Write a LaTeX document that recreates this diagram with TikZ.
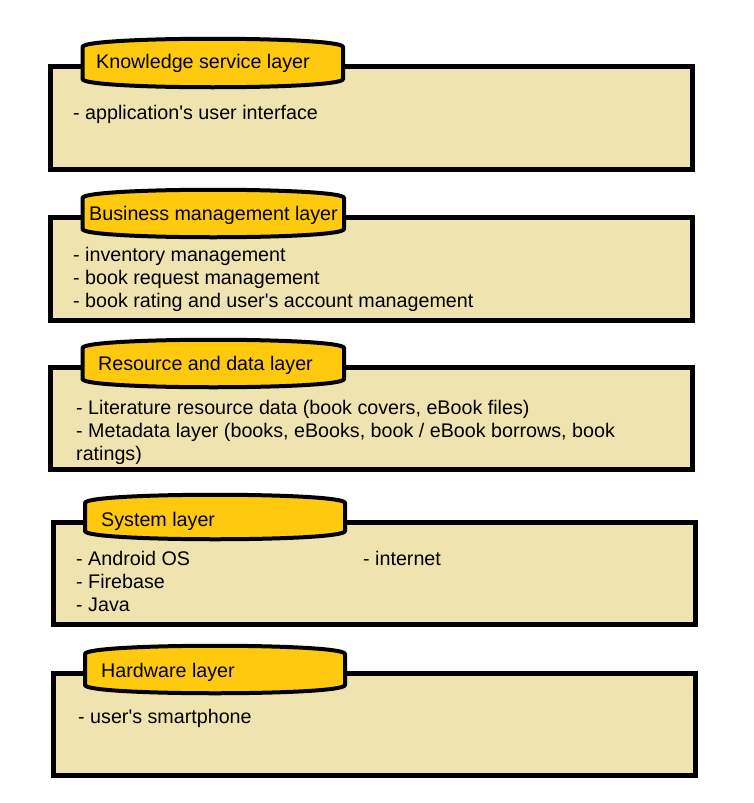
\documentclass[tikz,border=0pt]{standalone}
\usepackage{fontspec}
\setmainfont{Liberation Sans}
\definecolor{LayerFill}{HTML}{EFE4B0}
\definecolor{TabFill}{HTML}{FFC90E}
\newcommand{\q}{\textquotesingle}
\tikzset{
  layerbox/.style={draw=black,fill=LayerFill,line width=5pt},
  layertab/.style={draw=black,fill=TabFill,line width=4pt,line join=round},
  layertext/.style={anchor=base west,inner sep=0pt,align=left,font=\fontsize{19.7}{23}\selectfont}
}

\begin{document}
\begin{tikzpicture}[x=1pt,y=-1pt]
  \useasboundingbox (0,0) rectangle (754,803);
  % boxes and tabs: index / left / top / right / bottom / tab left / tab top / tab right / tab bottom
  \foreach \i/\xl/\yt/\xr/\yb/\tl/\tt/\tr/\tb in {
      1/50.5/66.5/692.5/169.5/82.5/38/343/88,
      2/50.5/217/692.5/320/82.5/189/344/238,
      3/50.5/367/692.5/469.5/82.5/339/344/388,
      4/53.5/522.5/695.5/624.5/85/494/345/540,
      5/53.5/673.5/695.5/775.5/85/645/345/694}{
    \draw[layerbox] (\xl,\yt) rectangle (\xr,\yb);
    \coordinate (tab\i) at (\tl,\tt);
    \draw[layertab] (\tl,\tt+9) .. controls (\tl,\tt-2) and (\tr,\tt-2) .. (\tr,\tt+9)
      -- (\tr,\tb-9) .. controls (\tr,\tb+2) and (\tl,\tb+2) .. (\tl,\tb-9) -- cycle;
  }
  % titles
  \node[layertext] (title1) at (96,68) {Knowledge service layer};
  \node[layertext] (title2) at (89,220) {Business management layer};
  \node[layertext] (title3) at (98,370) {Resource and data layer};
  \node[layertext] (title4) at (101,526) {System layer};
  \node[layertext] (title5) at (101,677) {Hardware layer};
  % contents (base = last line)
  \node[layertext] (items1) at (73,119) {- application\q s user interface};
  \node[layertext] (items2) at (73,307) {- inventory management\\- book request management\\- book rating and user\q s account management};
  \node[layertext] (items3) at (76,460) {- Literature resource data (book covers, eBook files)\\- Metadata layer (books, eBooks, book / eBook borrows, book\\ratings)};
  \node[layertext] (items4) at (76,611) {- Android OS\\- Firebase\\- Java};
  \node[layertext] (net4) at (363,565) {- internet};
  \node[layertext] (items5) at (78,723) {- user\q s smartphone};
\end{tikzpicture}
\end{document}
